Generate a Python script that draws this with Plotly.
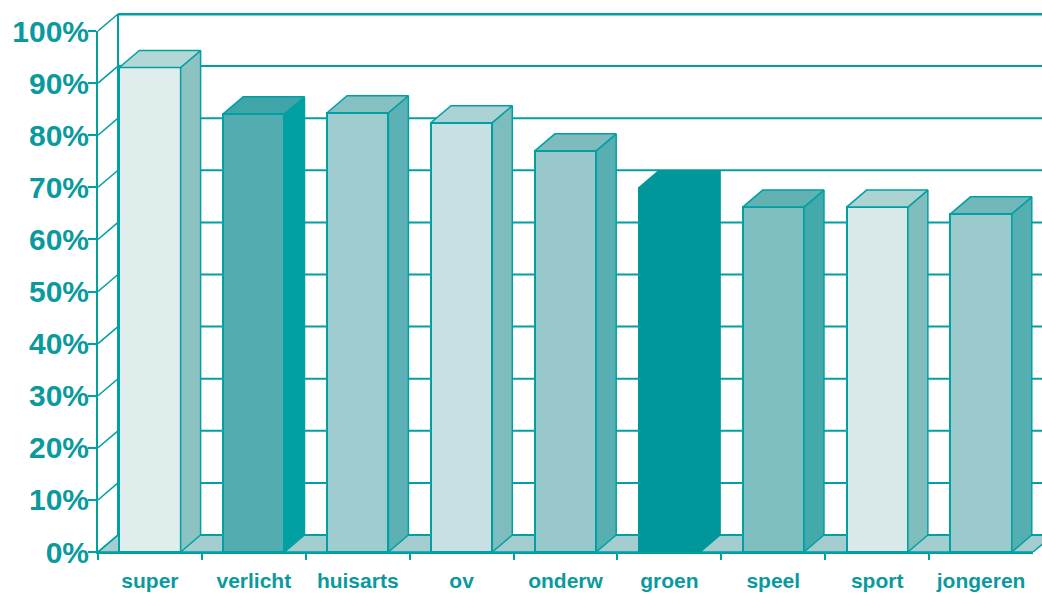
import plotly.graph_objects as go

categories = ["super", "verlicht", "huisarts", "ov", "onderw", "groen", "speel", "sport", "jongeren"]
values = [93.0, 84.1, 84.3, 82.4, 77.0, 69.9, 66.2, 66.2, 64.9]
front_colors = ["#e0eded", "#53adb0", "#9fcccf", "#c8e0e3", "#98c8cb", "#00979b", "#80bfc0", "#d9e9e9", "#9acacb"]
side_colors = ["#8bc2c2", "#00a0a3", "#5db1b4", "#7ebdbe", "#58afb2", "#00979b", "#44a9ab", "#80bdbd", "#55aeb0"]
top_colors = ["#b3d7d7", "#3fa5a8", "#85c1c3", "#abd3d3", "#7dbbbd", "#00979b", "#62b2b4", "#add2d2", "#72b8ba"]
edge_colors = ["#00a0a3"] * 5 + ["#00979b"] + ["#00a0a3"] * 3
y_ticks = [0, 10, 20, 30, 40, 50, 60, 70, 80, 90, 100]
y_tick_labels = ["0%", "10%", "20%", "30%", "40%", "50%", "60%", "70%", "80%", "90%", "100%"]

W, H = 1042, 593
LINE = "#00a0a3"
TEXT = "#0a9a9e"
FLOOR = "#a3cdcf"
DX = 0.1925       # depth of the 3D effect in category units
DY = 3.26         # depth of the 3D effect in percent units
BAR_W = 0.59
X_END = 8.586
Y_END = 103.45

shapes = []
# floor
shapes.append(dict(type="path", layer="below", xref="x", yref="y",
                   path=f"M -0.5 0 L {-0.5+DX} {DY} L {8.5+DX} {DY} L 8.5 0 Z",
                   fillcolor=FLOOR, line=dict(color=LINE, width=1.5)))
# back wall lines and side-wall diagonals
for t in y_ticks:
    shapes.append(dict(type="line", layer="below", xref="x", yref="y",
                       x0=-0.5 + DX, x1=X_END, y0=t + DY, y1=t + DY,
                       line=dict(color=LINE, width=3 if t == 100 else 2)))
    shapes.append(dict(type="line", layer="below", xref="x", yref="y",
                       x0=-0.5, x1=-0.5 + DX, y0=t, y1=t + DY,
                       line=dict(color=LINE, width=1.5)))
shapes.append(dict(type="line", layer="below", xref="x", yref="y",
                   x0=-0.5 + DX, x1=-0.5 + DX, y0=DY, y1=100 + DY,
                   line=dict(color=LINE, width=2)))

fig = go.Figure()

# front faces
fig.add_trace(go.Bar(x=list(range(len(values))), y=values, width=BAR_W,
                     marker=dict(color=front_colors, line=dict(color=edge_colors, width=2)),
                     xaxis="x", yaxis="y", hoverinfo="skip"))

# side and top faces, derived from the values
for i, v in enumerate(values):
    l, r = i - BAR_W / 2, i + BAR_W / 2
    fig.add_trace(go.Scatter(x=[r, r + DX, r + DX, r, r], y=[v, v + DY, DY, 0, v],
                             mode="lines", fill="toself", fillcolor=side_colors[i],
                             line=dict(color=edge_colors[i], width=1.5),
                             xaxis="x", yaxis="y", hoverinfo="skip"))
    fig.add_trace(go.Scatter(x=[l, l + DX, r + DX, r, l], y=[v, v + DY, v + DY, v, v],
                             mode="lines", fill="toself", fillcolor=top_colors[i],
                             line=dict(color=edge_colors[i], width=1.5),
                             xaxis="x", yaxis="y", hoverinfo="skip"))

# carrier of the visible axes
fig.add_trace(go.Scatter(x=categories, y=values, mode="markers", marker=dict(opacity=0),
                         xaxis="x2", yaxis="y2", hoverinfo="skip"))

fig.update_layout(
    width=W, height=H, autosize=False, showlegend=False,
    margin=dict(l=0, r=0, t=0, b=0, pad=0, autoexpand=False),
    paper_bgcolor="white", plot_bgcolor="rgba(0,0,0,0)",
    bargap=0, shapes=shapes,
    font=dict(family="Liberation Sans", color=TEXT),
    xaxis=dict(domain=[98 / W, 1], range=[-0.5, X_END], anchor="y", visible=False),
    yaxis=dict(domain=[(H - 552) / H, (H - 13) / H], range=[0, Y_END], anchor="x", visible=False),
    xaxis2=dict(domain=[98 / W, 1033 / W], range=[-0.5, 8.5], anchor="y2", type="category",
                categoryorder="array", categoryarray=categories, automargin=False,
                tickson="boundaries", ticks="outside", ticklen=6, tickwidth=2, tickcolor=LINE,
                showline=True, linecolor=LINE, linewidth=2, showgrid=False, zeroline=False,
                tickangle=0, ticklabelstandoff=9,
                tickfont=dict(family="Liberation Sans", size=21, color=TEXT, weight="bold")),
    yaxis2=dict(domain=[(H - 552) / H, (H - 31) / H], range=[0, 100], anchor="x2", automargin=False,
                tickmode="array", tickvals=y_ticks, ticktext=y_tick_labels,
                ticks="outside", ticklen=8, tickwidth=2, tickcolor=LINE,
                showline=True, linecolor=LINE, linewidth=2, showgrid=False, zeroline=False,
                ticklabelstandoff=-7,
                tickfont=dict(family="Liberation Sans", size=30, color=TEXT, weight="bold")),
)

fig.write_html("out.html", config={"displayModeBar": False},
               post_script="document.body.style.margin='0';document.body.style.overflow='hidden';")
